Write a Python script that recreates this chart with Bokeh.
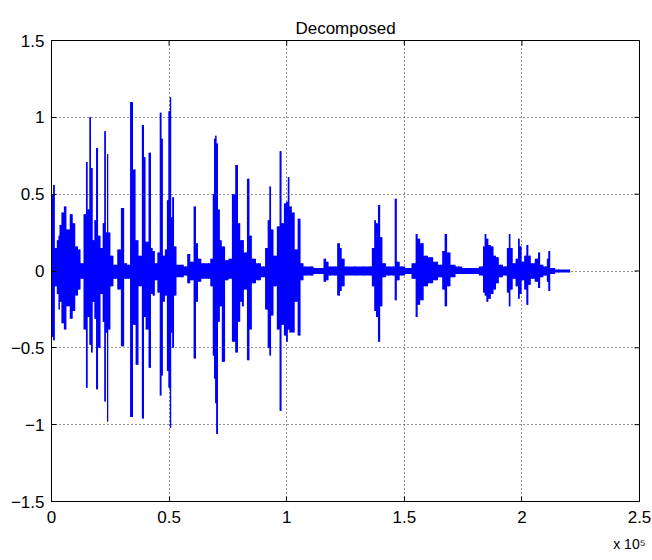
import math
from bokeh.plotting import figure
from bokeh.models import Range1d, FixedTicker, Title, CustomJSTickFormatter
from bokeh.embed import file_html
from bokeh.resources import INLINE

# ---- data (sample index, local max, local min) ----
sample_idx = [
    0, 400, 1000, 1800, 2700, 3300, 3700, 4700, 5800, 6900, 8600, 9400, 10800, 11800, 12900,
    14300, 15000, 15700, 16500, 17100, 17900, 18600, 19300, 20300, 21400, 22100, 22800, 23400,
    23800, 24500, 25600, 27100, 28800, 30200, 31600, 32700, 34100, 35200, 36300, 37700, 39100,
    39500, 40500, 42000, 42600, 43400, 44500, 45500, 46500, 46900, 47800, 48600, 49500, 50000,
    50600, 51200, 51600, 52600, 53700, 55400, 57100, 58300, 59700, 61100, 61800, 62800, 64600,
    66800, 68200, 68900, 69300, 69900, 70300, 71300, 71700, 73100, 74500, 76000, 77400, 78800,
    79800, 80700, 81200, 82400, 83800, 84500, 85900, 88000, 90100, 91500, 92300, 93000, 93700,
    95100, 96500, 97400, 98200, 99400, 100100, 100800, 101500, 102900, 103900, 105400, 106400,
    107900, 110700, 112100, 114900, 116400, 117100, 118500, 120600, 122300, 123000, 123700,
    125600, 129100, 132700, 135500, 136900, 137600, 138300, 139300, 140200, 141200, 143300,
    145400, 146400, 147200, 148900, 151800, 154300, 155300, 156000, 157500, 159000, 161200,
    163300, 165400, 166800, 167500, 168900, 170400, 173200, 176000, 180300, 183100, 183800,
    184500, 185300, 186200, 187400, 188500, 189500, 190900, 193000, 194200, 194700, 195600,
    196600, 198000, 198700, 199400, 200400, 201500, 202300, 203200, 204400, 206500, 207200,
    208300, 210000, 211200, 211500, 212600, 215700, 220300,
]
upper = [
    0.30, 0.50, 0.56, 0.15, 0.20, 0.23, 0.30, 0.38, 0.42, 0.27, 0.37, 0.31, 0.16, 0.14, 0.05,
    0.37, 0.71, 0.40, 1.00, 0.67, 0.20, 0.33, 0.80, 0.23, 0.15, 0.31, 0.91, 0.25,
    0.76, 0.25, 0.10, 0.04, 0.14, 0.41, 0.05, 0.04, 1.10, 0.66, 0.20, 0.10, 0.95,
    0.74, 0.19, 0.77, 0.15, 0.13, 0.05, 0.12, 1.03, 0.86, 0.10, 0.14, 0.46, 1.04,
    1.13, 0.35, 0.48, 0.16, 0.04, 0.04, 0.03, 0.11, 0.06, 0.42, 0.18, 0.08, 0.05,
    0.05, 0.08, 0.50, 0.86, 0.88, 0.83, 0.40, 0.20, 0.16, 0.07, 0.08, 0.50, 0.69,
    0.31, 0.20, 0.20, 0.12, 0.60, 0.23, 0.08, 0.05, 0.03, 0.15, 0.33, 0.55, 0.27,
    0.10, 0.29, 0.78, 0.31, 0.44, 0.45, 0.61, 0.42, 0.38, 0.14, 0.34, 0.05,
    0.03, 0.03, 0.02, 0.02, 0.08, 0.06, 0.03, 0.03, 0.18, 0.15, 0.08,
    0.03, 0.03, 0.03, 0.03, 0.15, 0.33, 0.31, 0.43, 0.22, 0.05, 0.03,
    0.03, 0.47, 0.06, 0.03, 0.02, 0.05, 0.24, 0.21, 0.18, 0.10, 0.09,
    0.06, 0.04, 0.13, 0.24, 0.12, 0.04, 0.03, 0.02, 0.02, 0.03, 0.16,
    0.24, 0.21, 0.17, 0.16, 0.10, 0.09, 0.04, 0.03, 0.15, 0.24, 0.15,
    0.05, 0.08, 0.21, 0.16, 0.06, 0.10, 0.17, 0.10, 0.05, 0.08, 0.12,
    0.04, 0.03, 0.08, 0.13, 0.02, 0.01, 0.01,
]
lower = [
    -0.30, -0.43, -0.45, -0.10, -0.15, -0.25, -0.20, -0.34, -0.38, -0.23, -0.31, -0.26, -0.16, -0.12, -0.05,
    -0.38, -0.76, -0.30, -0.48, -0.53, -0.20, -0.31, -0.77, -0.50, -0.15, -0.33, -0.85, -0.40,
    -0.98, -0.38, -0.10, -0.05, -0.12, -0.49, -0.05, -0.05, -0.95, -0.35, -0.61, -0.10, -0.96,
    -0.30, -0.38, -0.63, -0.15, -0.16, -0.06, -0.14, -0.81, -0.68, -0.20, -0.16, -0.65, -0.76,
    -1.02, -0.40, -0.50, -0.16, -0.04, -0.04, -0.03, -0.08, -0.06, -0.57, -0.20, -0.07, -0.05,
    -0.05, -0.10, -0.55, -0.70, -0.86, -1.06, -0.33, -0.23, -0.59, -0.06, -0.05, -0.46, -0.53,
    -0.33, -0.20, -0.23, -0.12, -0.58, -0.38, -0.08, -0.06, -0.04, -0.25, -0.50, -0.55, -0.29,
    -0.10, -0.38, -0.91, -0.35, -0.42, -0.46, -0.38, -0.40, -0.40, -0.20, -0.42, -0.06,
    -0.03, -0.03, -0.02, -0.02, -0.07, -0.06, -0.03, -0.03, -0.16, -0.13, -0.10,
    -0.03, -0.03, -0.03, -0.03, -0.10, -0.26, -0.30, -0.46, -0.23, -0.04, -0.03,
    -0.03, -0.19, -0.06, -0.03, -0.02, -0.05, -0.30, -0.22, -0.19, -0.10, -0.08,
    -0.06, -0.04, -0.12, -0.23, -0.10, -0.04, -0.02, -0.02, -0.02, -0.03, -0.14,
    -0.16, -0.20, -0.18, -0.15, -0.12, -0.08, -0.04, -0.03, -0.14, -0.23, -0.12,
    -0.05, -0.10, -0.18, -0.15, -0.06, -0.12, -0.22, -0.09, -0.05, -0.07, -0.11,
    -0.04, -0.03, -0.07, -0.13, -0.02, -0.01, -0.01,
]

x_ticks = [0, 50000, 100000, 150000, 200000, 250000]
y_ticks = [-1.5, -1, -0.5, 0, 0.5, 1, 1.5]
x_min, x_max = 0, 250000
y_min, y_max = -1.5, 1.5
title_text = "Decomposed"
x_exponent_text = "x 10\u2075"

FONT = "Liberation Sans"
BLUE = "#0000FF"

p = figure(width=652, height=560, output_backend="svg", toolbar_location=None, tools="",
           x_range=Range1d(x_min, x_max), y_range=Range1d(y_min, y_max),
           min_border_left=51, min_border_right=13, min_border_top=40, min_border_bottom=59)
p.background_fill_color = "white"
p.border_fill_color = "white"
p.outline_line_color = "black"
p.outline_line_alpha = 1

# waveform: dense fill (one step per read sample) plus its min-max strokes
p.varea_step(x=sample_idx, y1=lower, y2=upper, step_mode="center", fill_color=BLUE)
p.segment(x0=sample_idx, y0=lower, x1=sample_idx, y1=upper, line_color=BLUE, line_width=1)

# grid
p.xgrid.ticker = FixedTicker(ticks=x_ticks)
p.ygrid.ticker = FixedTicker(ticks=y_ticks)
for g in (p.xgrid, p.ygrid):
    g.grid_line_color = "black"
    g.grid_line_dash = "1 3"
    g.grid_line_alpha = 0.85
    g.grid_line_width = 1

# axes (ticks inward)
p.xaxis.ticker = FixedTicker(ticks=x_ticks)
p.xaxis.formatter = CustomJSTickFormatter(code="return (tick/1e5).toString();")
p.yaxis.ticker = FixedTicker(ticks=y_ticks)
for ax in list(p.xaxis) + list(p.yaxis):
    ax.major_tick_in = 5
    ax.major_tick_out = 0
    ax.minor_tick_line_color = None
    ax.axis_line_color = "black"
    ax.major_tick_line_color = "black"
    ax.major_label_text_font = FONT
    ax.major_label_text_font_size = "17px"
    ax.major_label_text_color = "black"
p.xaxis.major_label_standoff = 9
p.yaxis.major_label_standoff = 7

# inward tick marks on the top and right edges of the box
p.ray(x=x_ticks, y=[y_max] * len(x_ticks), length=5, length_units="screen",
      angle=-math.pi / 2, line_color="black", line_width=1)
p.ray(x=[x_max] * len(y_ticks), y=y_ticks, length=5, length_units="screen",
      angle=math.pi, line_color="black", line_width=1)

# title above and exponent note below-right
p.title.text = title_text
p.title.align = "center"
p.title.text_font = FONT
p.title.text_font_size = "17px"
p.title.text_font_style = "normal"
p.title.text_color = "black"
p.title.standoff = 6

p.add_layout(Title(text=x_exponent_text, align="right", text_font=FONT, text_font_size="14px",
                   text_font_style="normal", text_color="black", standoff=16, offset=-6), "below")

open("out.html", "w").write(file_html(p, INLINE))
